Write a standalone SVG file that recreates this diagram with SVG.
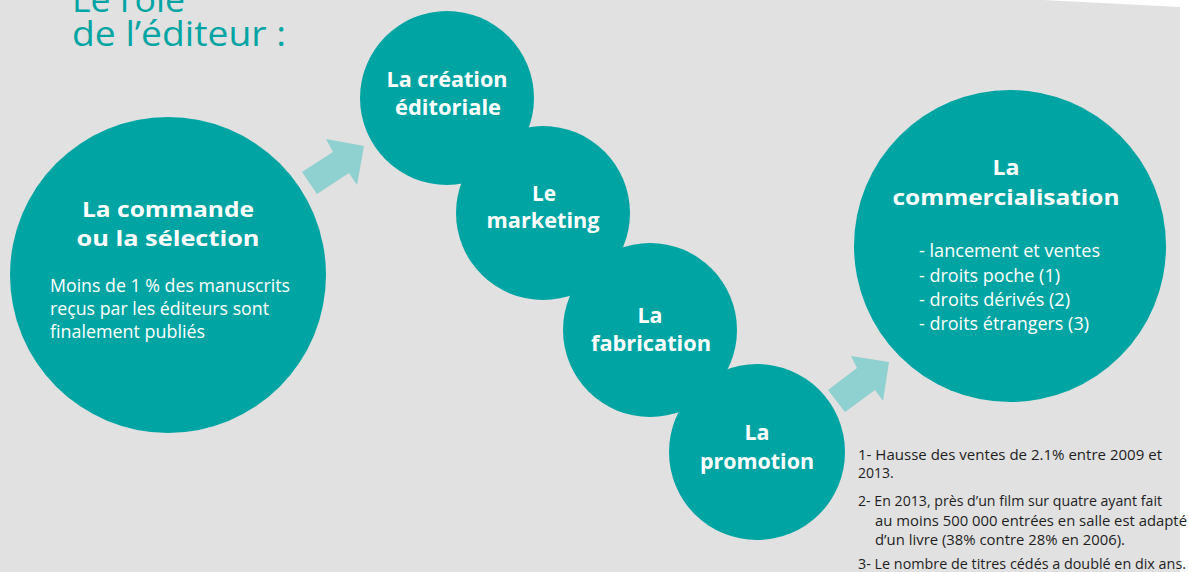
<svg xmlns="http://www.w3.org/2000/svg" width="1189" height="572" viewBox="0 0 1189 572">
  <style>
    .bubble { fill: #00a5a3; }
    .arrow { fill: #8fd0d0; }
    .head { font-family: "Open Sans", "Liberation Sans", sans-serif; font-weight: 700; font-size: 22px; fill: #ffffff; text-anchor: middle; }
    .body { font-family: "Open Sans", "Liberation Sans", sans-serif; font-weight: 400; font-size: 18px; fill: #ffffff; }
    .title { font-family: "Open Sans", "Liberation Sans", sans-serif; font-weight: 400; font-size: 34px; fill: #00a5a3; }
    .note { font-family: "Open Sans", "Liberation Sans", sans-serif; font-weight: 400; font-size: 14px; fill: #1e1e1e; }
  </style>

  <!-- page: white sheet with the grey panel cut slightly askew at the top right -->
  <rect x="0" y="0" width="1189" height="572" fill="#ffffff"/>
  <polygon points="0,0 1043,0 1180,7 1180,572 0,572" fill="#e1e1e1"/>

  <!-- heading -->
  <g id="title">
    <text class="title" x="72" y="12" textLength="113" lengthAdjust="spacingAndGlyphs">Le rôle</text>
    <text class="title" x="72" y="46" textLength="214" lengthAdjust="spacingAndGlyphs">de l’éditeur :</text>
  </g>

  <!-- connectors between stages -->
  <g id="connectors">
    <polygon class="arrow" points="302,172 317,194 349,173 357,185 364,146 326,139 333,152"/>
    <polygon class="arrow" points="828,390 845,412 875,390 883,401 889,362 851,356 857,368"/>
  </g>

  <g id="node-commande">
    <circle class="bubble" cx="168" cy="275" r="158"/>
    <text class="head" x="168" y="217" font-size="24" textLength="172" lengthAdjust="spacingAndGlyphs">La commande</text>
    <text class="head" x="168" y="246" font-size="24" textLength="183" lengthAdjust="spacingAndGlyphs">ou la sélection</text>
    <text class="body" x="50" y="292" textLength="240" lengthAdjust="spacingAndGlyphs">Moins de 1 % des manuscrits</text>
    <text class="body" x="50" y="315" textLength="219" lengthAdjust="spacingAndGlyphs">reçus par les éditeurs sont</text>
    <text class="body" x="50" y="338" textLength="155" lengthAdjust="spacingAndGlyphs">finalement publiés</text>
  </g>

  <g id="node-creation">
    <circle class="bubble" cx="447" cy="98" r="87"/>
    <text class="head" x="447" y="87" textLength="121" lengthAdjust="spacingAndGlyphs">La création</text>
    <text class="head" x="448" y="115" textLength="106" lengthAdjust="spacingAndGlyphs">éditoriale</text>
  </g>

  <g id="node-marketing">
    <circle class="bubble" cx="543" cy="213" r="87"/>
    <text class="head" x="544" y="201" textLength="24" lengthAdjust="spacingAndGlyphs">Le</text>
    <text class="head" x="543" y="228" textLength="113" lengthAdjust="spacingAndGlyphs">marketing</text>
  </g>

  <g id="node-fabrication">
    <circle class="bubble" cx="650" cy="330" r="87"/>
    <text class="head" x="650" y="323" textLength="25" lengthAdjust="spacingAndGlyphs">La</text>
    <text class="head" x="651" y="351" textLength="120" lengthAdjust="spacingAndGlyphs">fabrication</text>
  </g>

  <g id="node-promotion">
    <circle class="bubble" cx="757" cy="452" r="88"/>
    <text class="head" x="757" y="440" textLength="25" lengthAdjust="spacingAndGlyphs">La</text>
    <text class="head" x="757" y="469" textLength="114" lengthAdjust="spacingAndGlyphs">promotion</text>
  </g>

  <g id="node-commercialisation">
    <circle class="bubble" cx="1010" cy="246" r="156"/>
    <text class="head" x="1006" y="175" textLength="27" lengthAdjust="spacingAndGlyphs">La</text>
    <text class="head" x="1006" y="205" textLength="227" lengthAdjust="spacingAndGlyphs">commercialisation</text>
    <text class="body" x="919" y="257" textLength="181" lengthAdjust="spacingAndGlyphs">- lancement et ventes</text>
    <text class="body" x="919" y="282" textLength="141" lengthAdjust="spacingAndGlyphs">- droits poche (1)</text>
    <text class="body" x="919" y="306" textLength="151" lengthAdjust="spacingAndGlyphs">- droits dérivés (2)</text>
    <text class="body" x="919" y="330" textLength="170" lengthAdjust="spacingAndGlyphs">- droits étrangers (3)</text>
  </g>

  <!-- footnotes -->
  <g id="notes">
    <text class="note" x="858" y="460" textLength="304" lengthAdjust="spacingAndGlyphs">1- Hausse des ventes de 2.1% entre 2009 et</text>
    <text class="note" x="858" y="478">2013.</text>
    <text class="note" x="858" y="506" textLength="304" lengthAdjust="spacingAndGlyphs">2- En 2013, près d’un film sur quatre ayant fait</text>
    <text class="note" x="875" y="526" textLength="312" lengthAdjust="spacingAndGlyphs">au moins 500 000 entrées en salle est adapté</text>
    <text class="note" x="875" y="545" textLength="250" lengthAdjust="spacingAndGlyphs">d’un livre (38% contre 28% en 2006).</text>
    <text class="note" x="858" y="569" textLength="328" lengthAdjust="spacingAndGlyphs">3- Le nombre de titres cédés a doublé en dix ans.</text>
  </g>
</svg>
